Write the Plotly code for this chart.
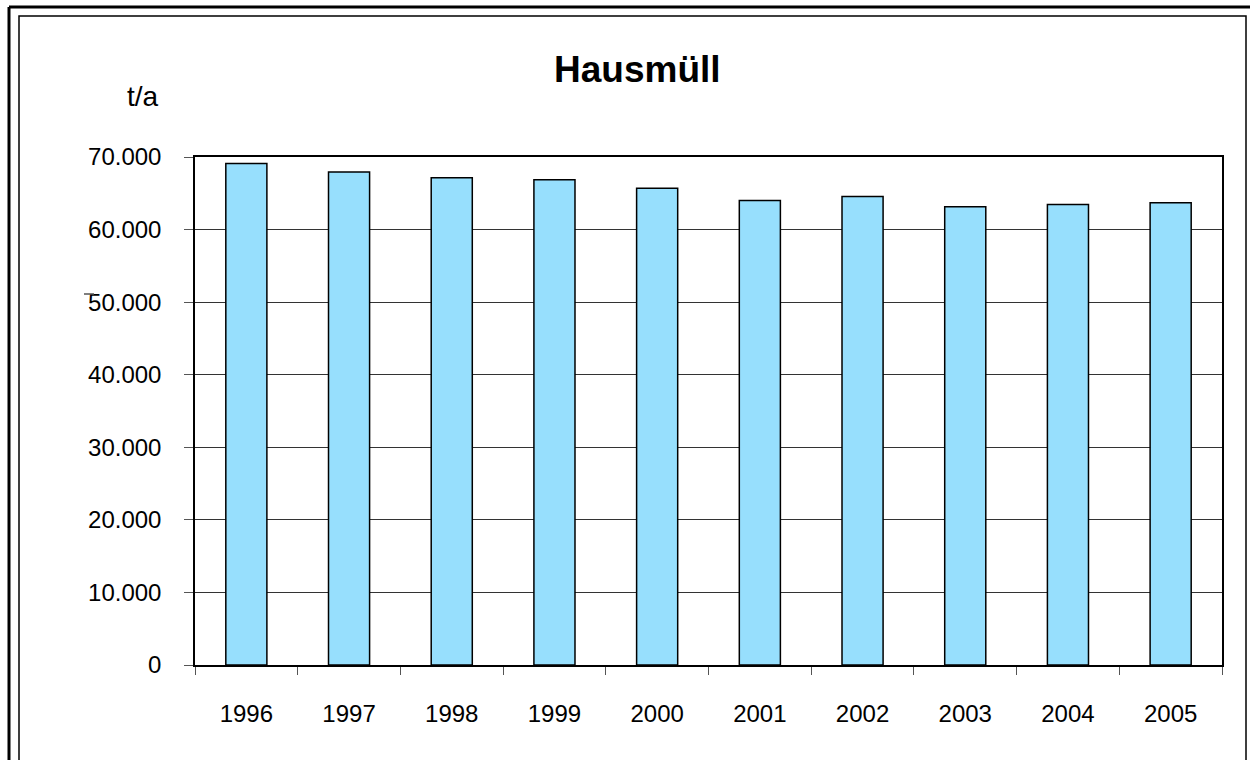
import plotly.graph_objects as go

years = ["1996", "1997", "1998", "1999", "2000", "2001", "2002", "2003", "2004", "2005"]
hausmuell = [69100, 67950, 67150, 66850, 65700, 64000, 64550, 63150, 63450, 63700]
y_ticks = [0, 10000, 20000, 30000, 40000, 50000, 60000, 70000]

W, H = 1250, 760
L, R, T, B = 195, 1222, 157, 665  # plot area in pixels
PW, PH = R - L, B - T


def px(x):
    return (x - L) / PW


def py(y):
    return (B - y) / PH


FONT = "Liberation Sans, Arial, sans-serif"

fig = go.Figure()
fig.add_trace(go.Bar(
    x=years, y=hausmuell, width=0.4,
    marker=dict(color="#97DFFD", line=dict(color="black", width=1.5)),
    hoverinfo="x+y",
))

fig.update_layout(
    width=W, height=H,
    margin=dict(l=L, r=W - R, t=T, b=H - B, pad=0),
    paper_bgcolor="white", plot_bgcolor="white",
    separators=",.",
    showlegend=False,
    font=dict(family=FONT, size=24, color="black"),
    bargap=0.6,
)
fig.update_xaxes(
    type="category", showline=True, linecolor="black", linewidth=2, mirror=True,
    ticks="outside", tickson="boundaries", ticklen=8, tickcolor="#555555", tickwidth=1,
    tickfont=dict(size=24, family=FONT), ticklabelstandoff=26, showgrid=False,
)
fig.update_yaxes(
    range=[0, 70000], tickvals=y_ticks, tickformat=",d",
    showline=True, linecolor="black", linewidth=1.5, mirror=True,
    ticks="outside", ticklen=9, tickcolor="#555555", tickwidth=1,
    tickfont=dict(size=24, family=FONT), ticklabelstandoff=18,
    showgrid=True, gridcolor="#333333", gridwidth=1, zeroline=False,
)

# Title and unit label
fig.add_annotation(text="<b>Hausmüll</b>", x=px(637), y=py(69), xref="paper", yref="paper",
                   showarrow=False, font=dict(size=37, family=FONT), xanchor="center", yanchor="middle")
fig.add_annotation(text="t/a", x=px(143), y=py(96), xref="paper", yref="paper",
                   showarrow=False, font=dict(size=28, family=FONT), xanchor="center", yanchor="middle")

# Stray tick mark above "50.000" as in the original
fig.add_shape(type="line", xref="paper", yref="paper", x0=px(84), x1=px(94), y0=py(294), y1=py(294),
              line=dict(color="#555555", width=1.5))

# Outer frames (cell borders)
fig.add_shape(type="line", xref="paper", yref="paper", x0=px(9), x1=px(1260), y0=py(7), y1=py(7),
              line=dict(color="black", width=3))
fig.add_shape(type="line", xref="paper", yref="paper", x0=px(9), x1=px(9), y0=py(7), y1=py(780),
              line=dict(color="black", width=3))
fig.add_shape(type="rect", xref="paper", yref="paper", x0=px(19), x1=px(1246), y0=py(16), y1=py(790),
              line=dict(color="black", width=1.5))

fig.write_html("out.html", config={"displayModeBar": False},
               post_script="document.body.style.margin='0px';")
